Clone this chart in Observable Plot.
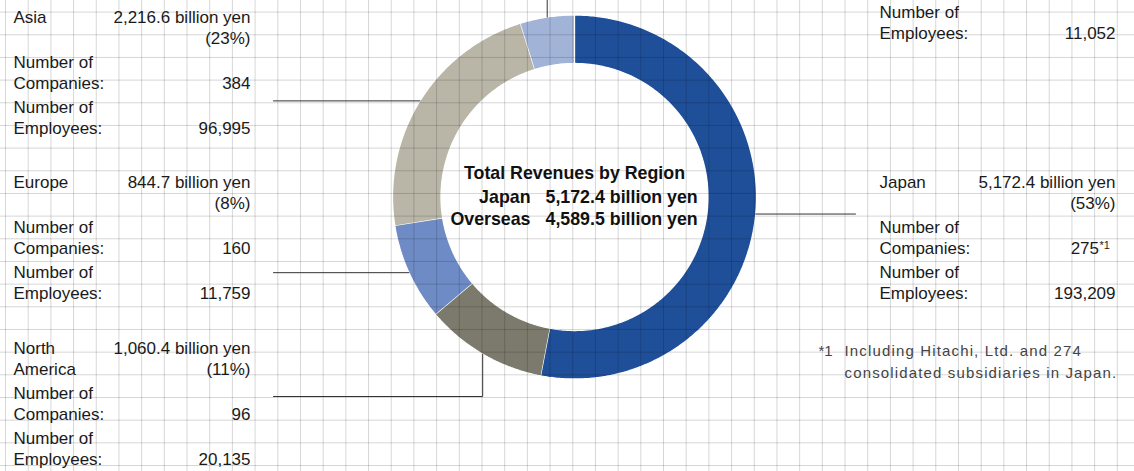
<!DOCTYPE html>
<html>
<head>
<meta charset="utf-8">
<script src="https://cdn.jsdelivr.net/npm/d3@7"></script>
<script src="https://cdn.jsdelivr.net/npm/@observablehq/plot@0.6"></script>
<style>
  html, body { margin: 0; padding: 0; background: #fff; overflow: hidden; }
</style>
</head>
<body>
<div id="chart"></div>
<script>
// ---- data ----
const regions = ["Japan", "North America", "Europe", "Asia", "Other"];
const regionNameLines = [["Japan"], ["North", "America"], ["Europe"], ["Asia"], ["Other"]];
const revenues = [5172.4, 1060.4, 844.7, 2216.6, 467.8];      // billion yen
const shares = [53, 11, 8, 23, 5];                              // %
const companies = [275, 96, 160, 384, null];
const employees = [193209, 20135, 11759, 96995, 11052];
const sliceColors = ["#1f4f99", "#7b7a6c", "#6f8bc5", "#b9b6a7", "#a2b3d8"];
const centerTitle = "Total Revenues by Region";
const centerRows = ["Japan", "Overseas"];
const centerValues = [5172.4, 4589.5];
const footnoteMark = "*1";
const footnoteLines = ["Including Hitachi, Ltd. and 274", "consolidated subsidiaries in Japan."];

// ---- layout (styling only) ----
const W = 1134, H = 471;
const cx = 574, cy = 196.5, rOuter = 182, rInner = 133.5;
const fontFamily = "'Liberation Sans', Arial, Helvetica, sans-serif";
const blockLayout = {
  "Japan":         {xl: 879, xr: 1115, y0: 187, leader: (s) => [[855, s[1]]]},
  "North America": {xl: 13,  xr: 250,  y0: 353, leader: (s) => [[s[0], 396], [273, 396]]},
  "Europe":        {xl: 13,  xr: 250,  y0: 187, leader: (s) => [[273, s[1]]]},
  "Asia":          {xl: 13,  xr: 250,  y0: 22,  leader: (s) => [[273, s[1]]]},
  "Other":         {xl: 879, xr: 1115, y0: -73, leader: (s) => [[s[0], -20]]}
};
const lineOffsets = [0, 21.5, 45, 66.5, 90, 111.5];

const fmt1 = d3.format(",.1f");
const fmtInt = d3.format(",");

// ---- donut geometry from data ----
const pie = d3.pie().sort(null).value(d => d)(revenues);
const polar = (r, a) => [cx + r * Math.sin(a), cy - r * Math.cos(a)];
const slicePts = [];
pie.forEach((p, i) => {
  const n = Math.max(8, Math.ceil((p.endAngle - p.startAngle) / 0.01));
  const outer = d3.range(n + 1).map(k => polar(rOuter, p.startAngle + (p.endAngle - p.startAngle) * k / n));
  const inner = d3.range(n + 1).map(k => polar(rInner, p.endAngle - (p.endAngle - p.startAngle) * k / n));
  [...outer, ...inner].forEach(([x, y]) => slicePts.push({region: regions[i], x, y}));
});

// leader lines from slice mid-points
const leaderPts = [];
pie.forEach((p, i) => {
  const mid = (p.startAngle + p.endAngle) / 2;
  const s = polar(rOuter, mid);
  const pts = [s, ...blockLayout[regions[i]].leader(s)];
  pts.forEach(([x, y]) => leaderPts.push({region: regions[i], x, y}));
});

// label texts
const leftTexts = [], rightTexts = [], supTexts = [];
regions.forEach((r, i) => {
  const L = blockLayout[r];
  const names = regionNameLines[i];
  leftTexts.push({x: L.xl, y: L.y0 + lineOffsets[0], t: names[0]});
  if (names[1]) leftTexts.push({x: L.xl, y: L.y0 + lineOffsets[1], t: names[1]});
  rightTexts.push({x: L.xr, y: L.y0 + lineOffsets[0], t: `${fmt1(revenues[i])} billion yen`});
  rightTexts.push({x: L.xr, y: L.y0 + lineOffsets[1], t: `(${shares[i]}%)`});
  leftTexts.push({x: L.xl, y: L.y0 + lineOffsets[2], t: "Number of"});
  leftTexts.push({x: L.xl, y: L.y0 + lineOffsets[3], t: "Companies:"});
  if (companies[i] != null) {
    if (r === "Japan") {
      rightTexts.push({x: L.xr - 16.5, y: L.y0 + lineOffsets[3], t: fmtInt(companies[i])});
      supTexts.push({x: L.xr - 16, y: L.y0 + lineOffsets[3] - 5, t: footnoteMark});
    } else {
      rightTexts.push({x: L.xr, y: L.y0 + lineOffsets[3], t: fmtInt(companies[i])});
    }
  }
  leftTexts.push({x: L.xl, y: L.y0 + lineOffsets[4], t: "Number of"});
  leftTexts.push({x: L.xl, y: L.y0 + lineOffsets[5], t: "Employees:"});
  rightTexts.push({x: L.xr, y: L.y0 + lineOffsets[5], t: fmtInt(employees[i])});
});
// only the lines that fall inside the picture are shown
const visible = d => d.y > 10;

const centerLeft = centerRows.map((t, i) => ({x: 530, y: 202 + 22 * i, t}));
const centerRight = centerValues.map((v, i) => ({x: 545, y: 202 + 22 * i, t: `${fmt1(v)} billion yen`}));
const footRows = footnoteLines.map((t, i) => ({x: 844, y: 355 + 22 * i, t}));

// grid (background styling)
const gridX = d3.range(5, W, 22.69);
const gridY = d3.range(11.6, H, 22.67);

const textOpts = {x: "x", y: "y", text: "t", lineAnchor: "bottom", fontSize: 17, fill: "#1a1a1a"};
const centerOpts = {...textOpts, fontSize: 17.8, fontWeight: "bold", fill: "#111"};

const chart = Plot.plot({
  width: W,
  height: H,
  margin: 0,
  x: {domain: [0, W], range: [0, W], axis: null},
  y: {domain: [0, H], range: [0, H], axis: null},
  style: {fontFamily, background: "#fff"},
  marks: [
    ...regions.map((r, i) => Plot.line(slicePts.filter(d => d.region === r), {
      x: "x", y: "y", fill: sliceColors[i], stroke: "#fff", strokeWidth: 1.3, strokeLinejoin: "miter"
    })),
    Plot.ruleX(gridX, {x: d => d, stroke: "#000", strokeOpacity: 0.16, strokeWidth: 1}),
    Plot.ruleY(gridY, {y: d => d, stroke: "#000", strokeOpacity: 0.16, strokeWidth: 1}),
    Plot.line(leaderPts, {x: "x", y: "y", z: "region", stroke: "#333", strokeWidth: 1}),
    Plot.text(leftTexts.filter(visible), {...textOpts, textAnchor: "start"}),
    Plot.text(rightTexts.filter(visible), {...textOpts, textAnchor: "end"}),
    Plot.text(supTexts, {x: "x", y: "y", text: "t", lineAnchor: "bottom", textAnchor: "start", fontSize: 11, fill: "#1a1a1a"}),
    Plot.text([{x: cx, y: 178, t: centerTitle}], {...centerOpts, textAnchor: "middle"}),
    Plot.text(centerLeft, {...centerOpts, textAnchor: "end"}),
    Plot.text(centerRight, {...centerOpts, textAnchor: "start"}),
    Plot.text([{x: 818, y: 355, t: footnoteMark}], {x: "x", y: "y", text: "t", lineAnchor: "bottom", textAnchor: "start", fontSize: 15, fill: "#444"}),
    Plot.text(footRows, {x: "x", y: "y", text: "t", lineAnchor: "bottom", textAnchor: "start", fontSize: 15, fill: "#444"})
  ]
});
// letter spacing for the footnote and the superscript mark
d3.select(chart).selectAll("text")
  .filter(function () { return footnoteLines.includes(this.textContent); })
  .attr("letter-spacing", "1.15px").style("letter-spacing", "1.15px");
d3.select(chart).selectAll("text")
  .filter(function () { return this.textContent === footnoteMark && +this.getAttribute("font-size") === 11; })
  .attr("letter-spacing", "1.5px").style("letter-spacing", "1.5px");
document.getElementById("chart").appendChild(chart);
</script>
</body>
</html>
